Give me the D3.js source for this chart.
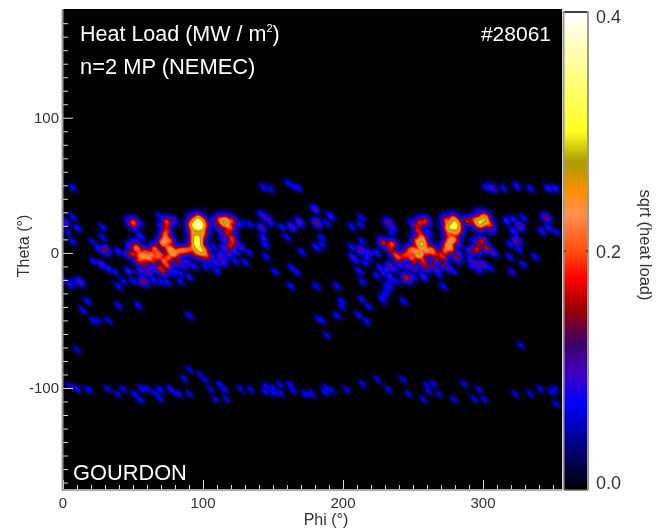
<!DOCTYPE html>
<html>
<head>
<meta charset="utf-8">
<script src="https://d3js.org/d3.v7.min.js"></script>
<style>
  html, body { margin: 0; padding: 0; background: #fff; }
  #chart { position: relative; width: 666px; height: 529px; overflow: hidden; }
  canvas, svg { position: absolute; left: 0; top: 0; }
  text { font-family: "Liberation Sans", Arial, sans-serif; fill: #333; }
</style>
</head>
<body>
<div id="chart"></div>
<script>
// [phi, theta, heat load]
var lowerBand = [
  [5,-98.6,.08],[10.2,-100.6,.08],[18.1,-101.1,.08],[31.7,-100.6,.07],[38.8,-104.3,.07],[43.1,-100.6,.07],
  [51.4,-104.8,.08],[55,-108.5,.08],[56.2,-100.6,.08],[60,-100.6,.08],[65.7,-103.6,.08],[68.8,-107.3,.08],[69.3,-101.1,.08],
  [76.4,-100.6,.08],[82.4,-104.3,.08],[78,-102,.08],[90.2,-104.3,.07],[86.4,-93.2,.07],[90.2,-86.3,.07],[97.9,-90,.07],[101.4,-93.7,.07],
  [105,-100.6,.07],[112.1,-97.4,.08],[115,-101.1,.08],[108.6,-108,.07],[116.4,-108,.07],[126.9,-100.6,.07],[134,-101.1,.07],
  [144.3,-102.4,.08],[145,-99,.08],[150.2,-103.6,.08],[155,-103.6,.08],[150,-100,.08],[155,-97.4,.07],[162.1,-97.4,.08],[164,-101.1,.08],
  [172.9,-104.3,.08],[177.6,-104.3,.08],[187.1,-103.1,.08],[188,-100,.08],[191.9,-101.6,.07],[202.6,-101.1,.07],[213.8,-96.9,.07],
  [224.5,-93.7,.07],[232.4,-101.1,.07],[242.6,-93.7,.07],[246.7,-104.3,.07],[257.4,-108.5,.07],[260.9,-102.4,.07],[260,-98,.07],
  [264.5,-96.9,.07],[268.1,-104.3,.07],[279.3,-108.5,.07],[286.4,-96.9,.07],[293.6,-108,.07],[297.1,-101.1,.07],[300.9,-108.5,.07],
  [322.8,-104.3,.07],[333.6,-104.3,.07],[340.7,-100.6,.07],[349,-102.8,.08],[351.4,-100.6,.07],[352.1,-111.5,.07]
];
var upperBand = [
  [6.9,48.3,.08],[143.1,48.3,.08],[147.9,47.8,.08],[161,51.5,.08],[165,49,.08],[168.1,48.3,.08],
  [306.2,48.3,.12],[302,48.5,.08],[314.5,47.8,.08],[324.1,49.5,.09],[333.6,47.8,.08],[346.7,47.8,.09],[351.4,47.8,.09]
];
var leftPatch = [
  [6.9,26.5,.08],[1.4,22.8,.11],[10.2,18.6,.09],[3.1,15.4,.07],[6.9,8.3,.08],[28.3,19.1,.08],[28.3,11.7,.08],[21,8.3,.07],
  [25.2,3.8,.1],[30,2.1,.15],[39.5,.9,.09],[21.7,-6,.08],[27.6,-8.5,.11],[32.4,-11.7,.09],[37.1,-14.2,.08],[46.7,-13.5,.1],
  [43.1,-20.9,.08],[39.5,-24.6,.08],[50.2,-20.9,.08],[57.4,-20.9,.15],[65,-20.4,.09],[74,-21.4,.09],[70,-21.4,.08],[12.1,-21.4,.12],
  [8.6,-21.4,.08],[5,-23.3,.09],[1.4,-20.1,.07],[17.4,-35.7,.08],[14.1,-42.6,.08],[39.5,-38.9,.08],[53.8,-38.9,.08],
  [21.7,-50,.08],[25.2,-50,.07],[32.4,-50,.07],[90.2,-46.3,.08],[10,-71.5,.07],[83.6,-20.9,.08],[90.2,-17.7,.08],[84,-15.2,.08]
];
var firstCluster = [
  [46,24,.08],[50.2,22.3,.2],[55,22.5,.08],[51.4,17.4,.08],[55,12.5,.1],[69,27,.08],[74,23,.19],[79,24,.12],[70,20,.1],[74,16.2,.17],[72.9,11.2,.2],
  [52.6,3.3,.22],[56.2,-2.3,.25],[61,-3.6,.22],[65.7,2.6,.21],[69.3,-1.1,.2],[71.7,7.5,.24],[76.4,2.6,.24],[80,.1,.22],[75.2,-3.6,.2],
  [69.3,-11,.17],[71.7,-13.5,.16],[64.5,-6,.16],[57.4,-11.7,.12],[46.7,-1.1,.14],[61,-14.7,.12],[55,-13.5,.1],[50,8,.09],
  [87.1,1.8,.19],[93.1,3.8,.2],[95.5,8.8,.3],[96.7,3.8,.24],[99,15,.23],[95.5,19.9,.34],[96.7,24.8,.24],[91.9,25.3,.14],[101.4,23.6,.14],
  [93.1,15,.2],[99,1.4,.28],[102.6,-1.9,.18],[82.4,-6,.15],[88.3,-6.8,.11],[93.1,-9.8,.09],[80,-14,.09],[101.4,-9.8,.09],[101.4,-4.8,.12],
  [115.7,22.8,.28],[112.1,24.3,.19],[120.5,23.6,.18],[119.3,18.6,.2],[120.5,11.2,.18],[119.3,5,.17],[114.5,10,.11],[114.5,3.8,.1],
  [112.1,-3.6,.11],[114.5,-7.3,.1],[109.8,-13.5,.08],[106.2,-2.3,.1],[107.4,4.6,.08],[126.4,4.6,.12],[132.4,.6,.08],[122.9,-6,.08],
  [130,-6.8,.08],[133.6,21.1,.08],[124,22.8,.1],[103.8,19.9,.09],
  [74,19.5,.16],[73,14,.18],[76,9,.2],[59,1,.18],[63,-1,.2],[67,-3,.19],[72,-6,.2],[74,-9,.18],[78,-1,.2],[83,1.5,.19],[85,2,.18],[90,2.5,.19],
  [50,-1,.17],[48,5,.12],[53,8,.1],[54,-6,.17],[58,-8,.15],[62,-10,.11],[66,-13,.1],[75,-10,.13],[80,-8,.12],[86,-10,.09],[77,-15,.08],
  [94,12,.22],[97,12,.25],[96,6,.26],[95,0,.18],[94,-3,.1],[92,21,.2],[99,20,.25],[97,22,.3],
  [111,19,.12],[113,15,.11],[117,15,.17],[121,8,.17],[118,0,.13],[113,-1,.1],[116,-4,.09],[110,-8,.09],[108,-6,.09],[123,1,.1],[125,21,.09],[129,22,.07],
  [104,21,.1],[108,23,.12],[103,-5,.09],[106,-9,.08]
];
var midPatch = [
  [141.9,28.5,.1],[145.5,25.6,.12],[148.3,22.3,.09],[141.9,18.6,.12],[143.1,11.2,.1],[144.3,6.3,.09],[145,-2.8,.08],[156.2,19.1,.08],
  [163.3,19.4,.12],[168.8,22.8,.12],[159.8,11.7,.08],[170.5,.9,.08],[151.4,-14,.08],[163.3,-11,.08],[166.9,-14.2,.08],[162.6,-24.6,.08],
  [180,32.7,.11],[181.2,22.3,.14],[180.7,4.6,.08],[180.7,-24.6,.08],[182.4,-49,.07],[191.2,27.3,.1],[188.3,22.3,.08],[184.8,11.2,.08],
  [184.8,6.3,.08],[181.2,3.8,.08],[195.5,-24.6,.08],[199,-35.7,.08],[199,-39.4,.08],[195.5,-46.3,.08],[184.8,-50,.08],[188.3,-60.9,.07],
  [327,-68.5,.07]
];
var secondCluster = [
  [212.2,21.1,.08],[213.3,26,.08],[206.2,19.4,.08],[213.3,8.8,.08],[206.2,4.6,.08],[213.3,2.6,.11],[218.1,.1,.11],[212.2,1.4,.11],
  [208.6,-4.8,.1],[206.2,-2.3,.08],[215.7,-7.3,.08],[211.7,-13.5,.09],[213.8,-20.9,.08],[213.3,-34.4,.08],[218.1,-39.4,.08],[211,-46,.08],
  [216.9,-50.5,.08],[232.4,22.3,.14],[235.5,18.6,.09],[234.8,15,.08],[228.8,7.5,.17],[234.8,6.3,.2],[239.5,-3.6,.19],[224,.1,.09],
  [226.4,-11,.09],[233.6,-9.8,.12],[224,-16.7,.08],[233.6,-17.7,.1],[245.5,-18.4,.17],[250.3,-17.7,.09],[238.3,-20.9,.08],[233.1,-24.6,.08],
  [230,-30.7,.08],[228.3,-35,.08],[243.1,-35.7,.08],[257.4,-17.2,.11],[268.1,-15.9,.08],[271.7,-24.6,.08],
  [256.2,6.3,.29],[255,22.3,.18],[258.6,23.6,.18],[253.8,16.2,.18],[261,15,.1],[249,22.3,.09],[250.3,2.6,.2],[256.2,11.2,.22],
  [253.8,-1.1,.25],[259.8,1.4,.22],[245.5,-1.1,.18],[249,-3.6,.2],[257.4,-6,.18],[264.5,.1,.19],[266.9,-4.8,.16],[271.7,-3.6,.17],
  [275.3,5,.25],[278.8,10,.22],[280,21.1,.3],[276.4,18.6,.28],[281.2,17.4,.24],[274,23.6,.2],[278.8,24.8,.22],[275.3,13.7,.18],
  [250.3,-11,.13],[259.8,-11,.13],[266.9,-12.2,.12],[275.3,-11,.12],[278.8,-13.5,.08],[281.2,-3.6,.15],[278.8,-2.3,.09],
  [288.3,23.6,.16],[297.9,22.3,.28],[301.4,26,.22],[305,21.1,.17],[305,16.2,.09],[293.1,24.8,.15],[296.7,29.8,.1],[294.3,18.6,.1],
  [299.1,8.8,.17],[295.5,2.6,.17],[290.7,1.4,.12],[302.6,3.8,.14],[307.4,.1,.11],[293.1,8.8,.08],[293.1,-7.3,.11],[300.2,-8.5,.12],
  [296.7,-12.2,.09],[305,-11,.08],[290.7,-3.6,.08],
  [243,-2.3,.17],[233.6,2.6,.16],[237.2,-1.1,.18],[247.9,1.4,.2],[252.6,8.8,.19],[255,0,.22],[263.3,2.6,.19],[269.3,-1,.17],[272.9,1.4,.2],
  [277.6,2.6,.17],[276.4,8.8,.22],[280,15,.2],[257.4,-9.8,.14],[263.3,-8.5,.15],[271.7,-8.5,.14],[251.4,-7.3,.14],[245.5,-9.8,.11],[240.7,-8.5,.1],
  [237.2,-12.2,.09],[231.2,-12.2,.1],[252.6,19.9,.16],[282.4,6.3,.1],[282.4,0,.1],[228.8,-14.7,.09],[216.9,-3.6,.09],[233.6,-22,.08],[227.6,-33,.08],
  [231.2,-28,.08],[231.2,-24.6,.08],
  [300.3,24.8,.24],[295.5,23.6,.2],[302.6,22.3,.2],[290.7,23.6,.14],[301.4,29.8,.1],[306.2,17.4,.1],[296.7,6.3,.15],[301.4,3.8,.14],[293.1,1.4,.13],
  [290.7,-6,.09],[296.7,-8.5,.12],[305,2.6,.11],[291.9,-9.8,.08]
];
var rightPatch = [
  [316.9,23.6,.1],[321.7,24.8,.09],[326.4,19.9,.13],[321.7,16.2,.1],[328.8,26,.08],[324.1,8.8,.14],[319.3,6.3,.08],[325.3,2.6,.08],
  [318.8,-2.8,.08],[337.2,-2.8,.08],[328.4,-8.5,.08],[320.5,-14,.08],[345,26,.14],[341.9,16.2,.09],[346.7,18.6,.09],[352.2,15.7,.08]
];
var heatPoints = [].concat(lowerBand, upperBand, leftPatch, firstCluster, midPatch, secondCluster, rightPatch);

var colorStops = [0, .073, .098, .123, .153, .177, .2, .231, .25, .274, .3, .33, .4];
var colorValues = ["#000000", "#0000ff", "#4000c0", "#400068", "#a00000", "#ff0000", "#ff5010", "#ff9050", "#ff9000", "#a89c00", "#ffff20", "#ffff60", "#ffffff"];
var barTicks = [0, .2, .4];
var phiMajor = [0, 100, 200, 300];
var thetaMajor = [-100, 0, 100];

var width = 666, height = 529;
var plot = {left: 63, right: 562, top: 9, bottom: 490};
var bar = {left: 564, right: 588, top: 12, bottom: 490};

var x = d3.scaleLinear().domain([0, 356.4]).range([plot.left, plot.right]);
var y = d3.scaleLinear().domain([-175.5, 180.5]).range([plot.bottom, plot.top]);
var z = d3.scaleLinear().domain(colorStops).range(colorValues).clamp(true);
var barY = d3.scaleLinear().domain([0, .4]).range([bar.bottom, bar.top]);

var chart = d3.select("#chart");

// heat map goes in a canvas below the svg
var plotW = plot.right - plot.left, plotH = plot.bottom - plot.top;
var canvas = chart.append("canvas")
    .attr("width", plotW).attr("height", plotH)
    .style("left", plot.left + "px").style("top", plot.top + "px");
var ctx = canvas.node().getContext("2d");
ctx.fillStyle = "#000";
ctx.fillRect(0, 0, plotW, plotH);

var field = new Float64Array(plotW * plotH);
var reach = 18, power = 3.5;
heatPoints.forEach(function(p) {
    var cx = x(p[0]) - plot.left, cy = y(p[1]) - plot.top;
    // hot spots spread wider than the faint ones
    var major = 3.7 + (p[2] - .08) * 10;
    var minor = 2.0 + (p[2] - .08) * 15;
    for (var j = Math.max(0, Math.floor(cy - reach)); j <= Math.min(plotH - 1, cy + reach); j++) {
        for (var i = Math.max(0, Math.floor(cx - reach)); i <= Math.min(plotW - 1, cx + reach); i++) {
            // the blobs lean down to the right
            var u = ((i + .5 - cx) + (j + .5 - cy)) * Math.SQRT1_2;
            var w = ((i + .5 - cx) - (j + .5 - cy)) * Math.SQRT1_2;
            var k = Math.exp(-(u * u / (2 * major * major) + w * w / (2 * minor * minor)));
            field[j * plotW + i] += Math.pow(p[2] * k, power);
        }
    }
});

var img = ctx.createImageData(plotW, plotH);
field.forEach(function(v, n) {
    var c = d3.rgb(z(Math.pow(v, 1 / power)));
    img.data[n * 4] = c.r;
    img.data[n * 4 + 1] = c.g;
    img.data[n * 4 + 2] = c.b;
    img.data[n * 4 + 3] = 255;
});
ctx.putImageData(img, 0, 0);

var svg = chart.append("svg").attr("width", width).attr("height", height);

// colour bar
var barSteps = d3.range(0, .4, .4 / 480);
svg.append("g").selectAll("rect")
    .data(barSteps)
    .enter().append("rect")
    .attr("x", bar.left)
    .attr("width", bar.right - bar.left)
    .attr("y", function(d) { return barY(d) - 1.5; })
    .attr("height", 2)
    .attr("fill", function(d) { return z(d); });

svg.append("path")
    .attr("d", "M" + bar.left + "," + bar.top + "H" + bar.right)
    .attr("stroke", "#000").attr("stroke-width", 1.5);
svg.append("path")
    .attr("d", "M" + bar.left + "," + bar.bottom + "H" + bar.right)
    .attr("stroke", "#999").attr("stroke-width", 1);
[bar.left - .5, bar.right].forEach(function(bx) {
    svg.append("line")
        .attr("x1", bx).attr("x2", bx)
        .attr("y1", bar.top - 1).attr("y2", bar.bottom)
        .attr("stroke", "#999").attr("stroke-width", 2);
});
svg.append("g").selectAll("path")
    .data([barY(.2)])
    .enter().append("path")
    .attr("d", function(d) { return "M" + bar.left + "," + d + "h2M" + (bar.right - 2) + "," + d + "h2"; })
    .attr("stroke", "#111");

var barLabelY = {0: 489, 0.2: 258, 0.4: 23};
svg.append("g").selectAll("text")
    .data(barTicks)
    .enter().append("text")
    .attr("x", 596)
    .attr("y", function(d) { return barLabelY[d]; })
    .attr("font-size", 18)
    .text(function(d) { return d.toFixed(1); });

// axes, ticks point into the plot
var xAxis = d3.axisBottom(x)
    .tickValues(d3.range(0, 357, 10))
    .tickSize(-5)
    .tickPadding(0)
    .tickFormat("");
var gx = svg.append("g").attr("transform", "translate(0," + plot.bottom + ")").call(xAxis);
var yAxis = d3.axisLeft(y)
    .tickValues(d3.range(-170, 180, 10))
    .tickSize(-5)
    .tickFormat("");
var gy = svg.append("g").attr("transform", "translate(" + plot.left + ",0)").call(yAxis);

[gx, gy].forEach(function(g) {
    g.select(".domain").remove();
    g.selectAll("line").attr("stroke", "#ddd").attr("stroke-width", 1);
});
gx.selectAll(".tick line").filter(function(d) { return d % 100 === 0; }).attr("y2", -10);
gy.selectAll(".tick line").filter(function(d) { return d % 100 === 0; }).attr("x2", 10);

svg.append("line")
    .attr("x1", plot.left).attr("x2", plot.right)
    .attr("y1", plot.bottom).attr("y2", plot.bottom)
    .attr("stroke", "#aaa").attr("stroke-width", 2);
svg.append("line")
    .attr("x1", plot.left - .5).attr("x2", plot.left - .5)
    .attr("y1", plot.top).attr("y2", plot.bottom + 1)
    .attr("stroke", "#999").attr("stroke-width", 2);

svg.append("g").selectAll("text")
    .data(phiMajor)
    .enter().append("text")
    .attr("x", function(d) { return x(d); })
    .attr("y", 508)
    .attr("text-anchor", "middle")
    .attr("font-size", 15)
    .text(function(d) { return d; });

svg.append("g").selectAll("text")
    .data(thetaMajor)
    .enter().append("text")
    .attr("x", 59)
    .attr("y", function(d) { return y(d) + 5.5; })
    .attr("text-anchor", "end")
    .attr("font-size", 15)
    .text(function(d) { return d; });

svg.append("text")
    .attr("x", 326).attr("y", 525)
    .attr("text-anchor", "middle")
    .attr("font-size", 16)
    .text("Phi (°)");

svg.append("text")
    .attr("transform", "translate(29,246) rotate(-90)")
    .attr("text-anchor", "middle")
    .attr("font-size", 16)
    .text("Theta (°)");

svg.append("text")
    .attr("transform", "translate(640,245) rotate(90)")
    .attr("text-anchor", "middle")
    .attr("font-size", 16.5)
    .text("sqrt (heat load)");

// labels inside the plot
var title = svg.append("text")
    .attr("x", 80).attr("y", 41)
    .attr("font-size", 21.5)
    .style("fill", "#fff")
    .text("Heat Load (MW / m");
title.append("tspan").attr("dy", -9).attr("font-size", 11).text("2");
title.append("tspan").attr("dy", 9).text(")");

svg.append("text")
    .attr("x", 80).attr("y", 74)
    .attr("font-size", 21.9)
    .style("fill", "#fff")
    .text("n=2 MP (NEMEC)");

svg.append("text")
    .attr("x", 551).attr("y", 41)
    .attr("text-anchor", "end")
    .attr("font-size", 21)
    .style("fill", "#fff")
    .text("#28061");

svg.append("text")
    .attr("x", 73).attr("y", 480)
    .attr("font-size", 21.8)
    .style("fill", "#fff")
    .text("GOURDON");
</script>
</body>
</html>
